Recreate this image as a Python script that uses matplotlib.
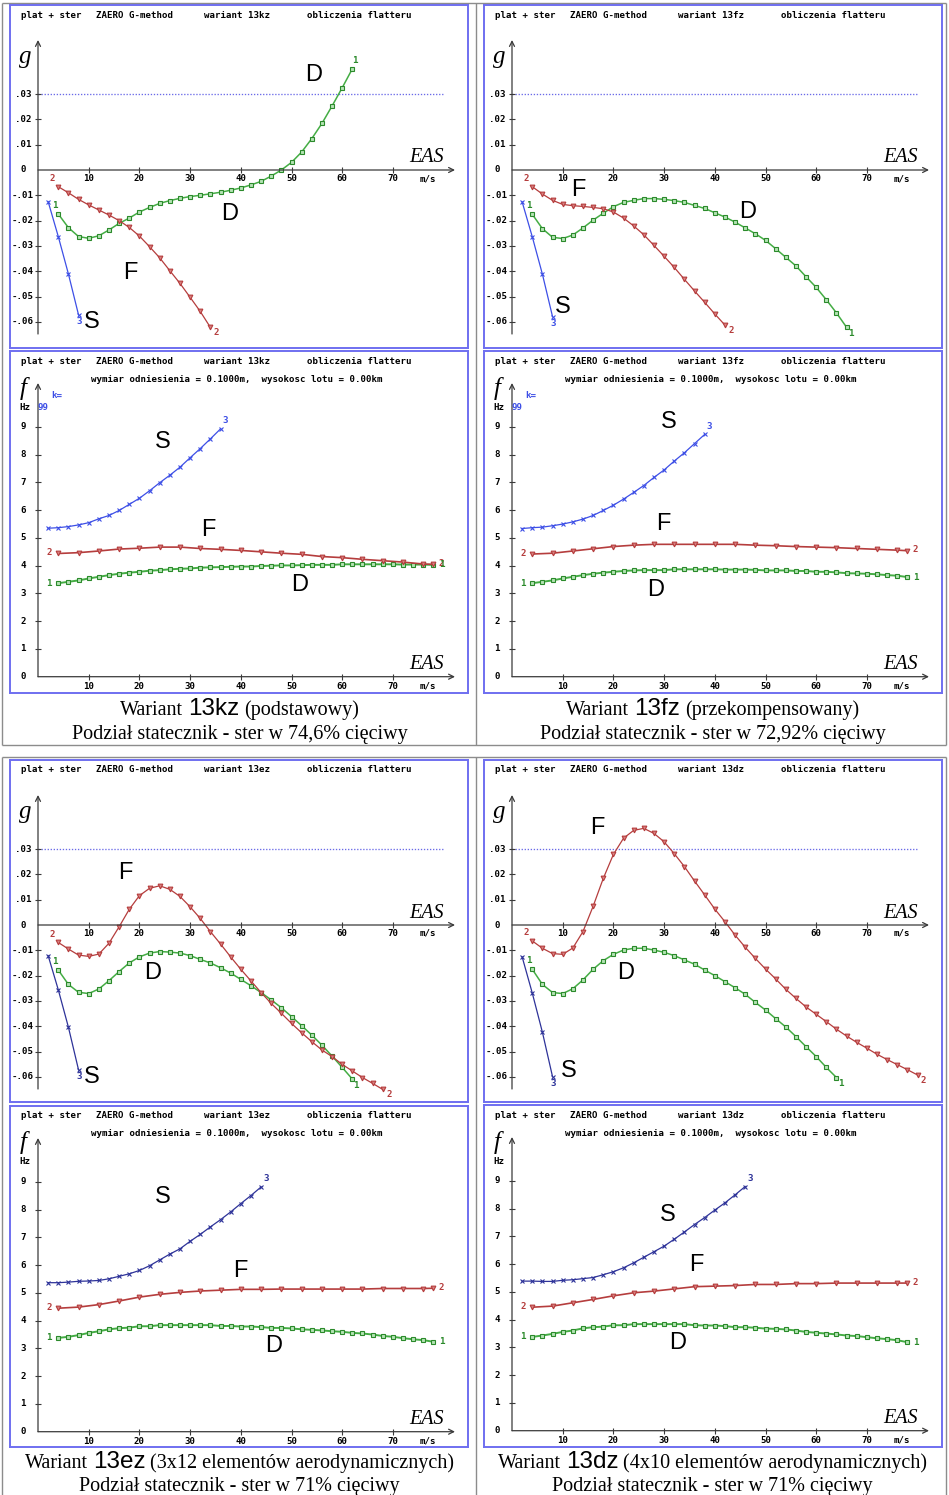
import matplotlib
matplotlib.use('Agg')
import matplotlib.pyplot as plt

W, H = 949, 1495

# EAS speeds, m/s
eas = [4, 6, 8, 10, 12, 14, 16, 18, 20, 22, 24, 26, 28, 30, 32, 34, 36, 38, 40, 42,
       44, 46, 48, 50, 52, 54, 56, 58, 60, 62, 64, 66, 68, 70, 72, 74, 76, 78, 80]
eas_s_g = [2, 4, 6, 8]
eas_s_f = [2, 4, 6, 8, 10, 12, 14, 16, 18, 20, 22, 24, 26, 28, 30, 32, 34, 36, 38, 40, 42, 44, 46]
eas_f_f = [4, 8, 12, 16, 20, 24, 28, 32, 36, 40, 44, 48, 52, 56, 60, 64, 68, 72, 76, 78]

g_ticks = [0.03, 0.02, 0.01, 0.0, -0.01, -0.02, -0.03, -0.04, -0.05, -0.06]
f_ticks = [0, 1, 2, 3, 4, 5, 6, 7, 8, 9]
x_ticks = [10, 20, 30, 40, 50, 60, 70]

# wariant 13kz
g_13kz_D = [-0.0174, -0.0228, -0.0263, -0.0270, -0.0260, -0.0237, -0.0211, -0.0190, -0.0166, -0.0148,
            -0.0132, -0.0121, -0.0112, -0.0105, -0.0100, -0.0094, -0.0088, -0.0080, -0.0071, -0.0059,
            -0.0045, -0.0024, 0.0000, 0.0030, 0.0071, 0.0124, 0.0184, 0.0253, 0.0325, 0.0400]
g_13kz_F = [-0.0066, -0.0090, -0.0116, -0.0138, -0.0158, -0.0178, -0.0200, -0.0227, -0.0261, -0.0303,
            -0.0347, -0.0398, -0.0448, -0.0503, -0.0559, -0.0622]
g_13kz_S = [-0.0125, -0.0263, -0.0411, -0.0573]
f_13kz_S = [5.35, 5.37, 5.41, 5.47, 5.55, 5.69, 5.81, 5.99, 6.21, 6.43, 6.70, 6.99, 7.26, 7.55, 7.89,
            8.22, 8.57, 8.93]
f_13kz_F = [4.44, 4.47, 4.53, 4.60, 4.63, 4.67, 4.67, 4.62, 4.59, 4.55, 4.50, 4.45, 4.41, 4.33, 4.29,
            4.23, 4.18, 4.13, 4.06, 4.05]
f_13kz_D = [3.37, 3.42, 3.47, 3.54, 3.60, 3.66, 3.71, 3.75, 3.78, 3.82, 3.84, 3.87, 3.89, 3.90, 3.93,
            3.94, 3.95, 3.96, 3.97, 3.97, 3.99, 4.00, 4.01, 4.01, 4.02, 4.03, 4.03, 4.03, 4.05, 4.05,
            4.05, 4.05, 4.05, 4.05, 4.04, 4.04, 4.04, 4.03]

# wariant 13fz
g_13fz_D = [-0.0175, -0.0232, -0.0266, -0.0271, -0.0257, -0.0229, -0.0198, -0.0171, -0.0145, -0.0128,
            -0.0120, -0.0113, -0.0113, -0.0116, -0.0121, -0.0128, -0.0140, -0.0152, -0.0169, -0.0186,
            -0.0206, -0.0229, -0.0252, -0.0278, -0.0311, -0.0345, -0.0379, -0.0422, -0.0464, -0.0513,
            -0.0565, -0.0622]
g_13fz_F = [-0.0066, -0.0095, -0.0120, -0.0136, -0.0141, -0.0144, -0.0148, -0.0153, -0.0166, -0.0190,
            -0.0221, -0.0256, -0.0298, -0.0341, -0.0385, -0.0432, -0.0478, -0.0523, -0.0569, -0.0613]
g_13fz_S = [-0.0126, -0.0264, -0.0412, -0.0580]
f_13fz_S = [5.34, 5.37, 5.39, 5.44, 5.50, 5.58, 5.68, 5.81, 5.99, 6.18, 6.40, 6.64, 6.89, 7.18, 7.45,
            7.77, 8.07, 8.40, 8.73]
f_13fz_F = [4.42, 4.45, 4.53, 4.61, 4.69, 4.74, 4.77, 4.77, 4.77, 4.77, 4.77, 4.74, 4.72, 4.69, 4.67,
            4.65, 4.62, 4.59, 4.56, 4.54]
f_13fz_D = [3.37, 3.42, 3.47, 3.54, 3.60, 3.66, 3.71, 3.75, 3.78, 3.81, 3.83, 3.84, 3.84, 3.84, 3.87,
            3.87, 3.87, 3.87, 3.87, 3.86, 3.86, 3.86, 3.85, 3.83, 3.83, 3.83, 3.81, 3.81, 3.78, 3.78,
            3.76, 3.73, 3.72, 3.71, 3.69, 3.66, 3.64, 3.59]

# wariant 13ez
g_13ez_D = [-0.0178, -0.0235, -0.0266, -0.0271, -0.0253, -0.0220, -0.0184, -0.0150, -0.0126, -0.0111,
            -0.0105, -0.0107, -0.0111, -0.0121, -0.0136, -0.0150, -0.0169, -0.0190, -0.0215, -0.0240,
            -0.0267, -0.0296, -0.0327, -0.0362, -0.0398, -0.0435, -0.0475, -0.0518, -0.0563, -0.0609]
g_13ez_F = [-0.0069, -0.0095, -0.0119, -0.0124, -0.0115, -0.0072, -0.0007, 0.0062, 0.0116, 0.0145,
            0.0155, 0.0141, 0.0113, 0.0072, 0.0026, -0.0026, -0.0075, -0.0126, -0.0175, -0.0221,
            -0.0267, -0.0310, -0.0349, -0.0389, -0.0426, -0.0461, -0.0494, -0.0520, -0.0551, -0.0577,
            -0.0603, -0.0626, -0.0650]
g_13ez_S = [-0.0121, -0.0256, -0.0404, -0.0573]
f_13ez_S = [5.37, 5.37, 5.39, 5.42, 5.43, 5.45, 5.51, 5.60, 5.69, 5.81, 5.98, 6.19, 6.40, 6.59, 6.86,
            7.11, 7.38, 7.64, 7.92, 8.22, 8.51, 8.82]
f_13ez_F = [4.45, 4.49, 4.58, 4.71, 4.85, 4.95, 5.02, 5.07, 5.10, 5.13, 5.13, 5.14, 5.14, 5.14, 5.14,
            5.14, 5.16, 5.16, 5.16, 5.17]
f_13ez_D = [3.38, 3.42, 3.48, 3.56, 3.62, 3.69, 3.73, 3.75, 3.80, 3.80, 3.84, 3.84, 3.84, 3.84, 3.84,
            3.84, 3.81, 3.81, 3.79, 3.79, 3.77, 3.74, 3.74, 3.72, 3.69, 3.67, 3.65, 3.62, 3.60, 3.56,
            3.54, 3.50, 3.45, 3.42, 3.37, 3.33, 3.30, 3.24]

# wariant 13dz
g_13dz_D = [-0.0175, -0.0235, -0.0267, -0.0271, -0.0252, -0.0217, -0.0175, -0.0141, -0.0116, -0.0099,
            -0.0092, -0.0092, -0.0099, -0.0108, -0.0121, -0.0138, -0.0155, -0.0178, -0.0200, -0.0224,
            -0.0248, -0.0274, -0.0306, -0.0336, -0.0370, -0.0403, -0.0441, -0.0481, -0.0520, -0.0563,
            -0.0603]
g_13dz_F = [-0.0063, -0.0092, -0.0113, -0.0116, -0.0091, -0.0026, 0.0074, 0.0184, 0.0279, 0.0343,
            0.0374, 0.0382, 0.0362, 0.0329, 0.0282, 0.0231, 0.0174, 0.0119, 0.0063, 0.0013,
            -0.0040, -0.0088, -0.0132, -0.0174, -0.0213, -0.0254, -0.0290, -0.0324, -0.0353, -0.0382,
            -0.0412, -0.0439, -0.0464, -0.0487, -0.0511, -0.0532, -0.0552, -0.0572, -0.0593]
g_13dz_S = [-0.0126, -0.0269, -0.0424, -0.0600]
f_13dz_S = [5.39, 5.39, 5.38, 5.38, 5.42, 5.44, 5.48, 5.52, 5.62, 5.73, 5.87, 6.05, 6.25, 6.45, 6.65,
            6.90, 7.16, 7.43, 7.68, 7.95, 8.21, 8.50, 8.80]
f_13dz_F = [4.45, 4.49, 4.61, 4.73, 4.86, 4.97, 5.03, 5.11, 5.19, 5.21, 5.23, 5.27, 5.27, 5.30, 5.30,
            5.32, 5.32, 5.32, 5.32, 5.32]
f_13dz_D = [3.38, 3.43, 3.49, 3.56, 3.61, 3.69, 3.73, 3.75, 3.80, 3.80, 3.84, 3.84, 3.84, 3.84, 3.84,
            3.84, 3.80, 3.79, 3.79, 3.77, 3.73, 3.73, 3.71, 3.68, 3.67, 3.65, 3.61, 3.56, 3.53, 3.50,
            3.47, 3.43, 3.41, 3.37, 3.33, 3.30, 3.26, 3.19]

# mode letters (EAS, value)
lab_g_13kz = [('D', 54.3, 0.0375), ('D', 37.7, -0.0172), ('F', 18.3, -0.0407), ('S', 10.6, -0.060)]
lab_g_13fz = [('F', 13.0, -0.0078), ('D', 46.4, -0.0165), ('S', 10.0, -0.0543)]
lab_g_13ez = [('F', 17.2, 0.0205), ('D', 22.7, -0.0191), ('S', 10.6, -0.060)]
lab_g_13dz = [('F', 16.8, 0.0382), ('D', 22.5, -0.0191), ('S', 11.1, -0.0577)]
lab_f_13kz = [('S', 24.6, 8.45), ('F', 33.6, 5.29), ('D', 51.7, 3.32)]
lab_f_13fz = [('S', 30.9, 9.18), ('F', 29.9, 5.50), ('D', 28.4, 3.12)]
lab_f_13ez = [('S', 24.6, 8.44), ('F', 40.0, 5.80), ('D', 46.5, 3.10)]
lab_f_13dz = [('S', 30.8, 7.78), ('F', 36.3, 5.98), ('D', 32.7, 3.16)]

cap_13kz = ['Wariant', '13kz', '(podstawowy)', 'Podział statecznik - ster w 74,6% cięciwy']
cap_13fz = ['Wariant', '13fz', '(przekompensowany)', 'Podział statecznik - ster w 72,92% cięciwy']
cap_13ez = ['Wariant', '13ez', '(3x12 elementów aerodynamicznych)', 'Podział statecznik - ster w 71% cięciwy']
cap_13dz = ['Wariant', '13dz', '(4x10 elementów aerodynamicznych)', 'Podział statecznik - ster w 71% cięciwy']

GREEN = '#44ad44'
GREEN_DK = '#2b8a2b'
GREEN_FILL = '#b5e3b5'
RED = '#b53d3d'
BLUE_TOP = '#3d4fe6'
BLUE_BOT = '#2e3399'
BOX = '#6f6ff0'
AXIS = '#3a3a3a'
FRAME = '#8c8c8c'
SX = 5.07

mono = dict(family='DejaVu Sans Mono', fontweight='bold', fontsize=6.6)

fig = plt.figure(figsize=(W / 100, H / 100), dpi=100)
bg = fig.add_axes([0, 0, 1, 1])
bg.set_xlim(0, W)
bg.set_ylim(H, 0)
bg.axis('off')


def panel(box, kind, name, D, F, S, letters, blue, top_row):
    x0, y0, x1, y1 = box
    g = kind == 'g'
    ox = x0 + 28.0
    oy = y0 + (165.0 if g else 325.7)
    sy = 2530.0 if g else 27.75
    ax = fig.add_axes([x0 / W, 1 - y1 / H, (x1 - x0) / W, (y1 - y0) / H])
    ax.set_xlim((x0 - ox) / SX, (x1 - ox) / SX)
    ax.set_ylim((oy - y1) / sy, (oy - y0) / sy)
    ax.set_xticks([])
    ax.set_yticks([])
    for sp in ax.spines.values():
        sp.set_color(BOX)
        sp.set_linewidth(1.4)

    def P(dx, dy):
        return (x0 + dx - ox) / SX, (oy - (y0 + dy)) / sy

    ax.text(*P(11, 10), 'plat + ster', va='center', **mono)
    ax.text(*P(86, 10), 'ZAERO G-method', va='center', **mono)
    ax.text(*P(194, 10), 'wariant ' + name, va='center', **mono)
    ax.text(*P(297, 10), 'obliczenia flatteru', va='center', **mono)
    if not g:
        ax.text(*P(81, 28), 'wymiar odniesienia = 0.1000m,  wysokosc lotu = 0.00km', va='center', **mono)

    arrow = dict(arrowstyle='->', color=AXIS, lw=0.9, shrinkA=0, shrinkB=0, mutation_scale=9)
    ytop = P(0, 35 if g else 32)[1]
    ybot = -164 / sy if g else 0
    ax.annotate('', xy=(0, ytop), xytext=(0, ybot), arrowprops=arrow)
    ax.annotate('', xy=(417 / SX, 0), xytext=(0, 0), arrowprops=arrow)

    ax.vlines(x_ticks, -3 / sy, 3 / sy, color=AXIS, lw=0.8)
    ty = -(8.5 if g else 9.5) / sy
    for v in x_ticks:
        ax.text(v, ty, str(v), ha='center', va='center', **mono)
    ax.text(390 / SX, ty, 'm/s', ha='center', va='center', **mono)

    lx = P(13, 0)[0]
    if g:
        yt = g_ticks
        labs = ['0' if t == 0 else ('%.2f' % t).replace('0.', '.') for t in yt]
        ax.plot([0, 80], [0.03, 0.03], ls=(0, (1, 1.3)), color='#6a6ae8', lw=0.95)
    else:
        yt = f_ticks
        labs = [str(t) for t in yt]
        ax.text(*P(15, 56), 'Hz', ha='center', va='center', **mono)
    ax.hlines([t for t in yt if t != 0], -3 / SX, 3 / SX, color=AXIS, lw=0.8)
    for t, lab in zip(yt, labs):
        ax.text(lx, t, lab, ha='center', va='center', **mono)

    if top_row and not g:
        ax.text(*P(41, 45), 'k=', ha='left', va='center', color=blue, **mono)
        ax.text(*P(28, 56), '99', ha='left', va='center', color=blue, **mono)

    sym = 'g' if g else 'f'
    ax.text(*(P(15, 52) if g else P(13, 37)), sym, ha='center', va='center',
            family='Liberation Serif', style='italic', fontsize=18)
    ax.text(389 / SX, 12 / sy, 'EAS', ha='center', va='center',
            family='Liberation Serif', style='italic', fontsize=14.5)

    if g:
        xD, xF, xS = eas[:len(D)], eas[:len(F)], eas_s_g
    else:
        xD, xF, xS = eas[:len(D)], eas_f_f, eas_s_f[:len(S)]
    ax.plot(xD, D, color=GREEN, lw=1.1 if g else 1.4, marker='s', ms=3.0, mfc=GREEN_FILL, mec=GREEN_DK, mew=0.8)
    ax.plot(xF, F, color=RED, lw=0.9 if g else 1.2, marker='v', ms=3.4, mfc='#d88080', mec=RED, mew=0.8)
    ax.plot(xS, S, color=blue, lw=0.9, marker='x', ms=3.4, mew=0.8)

    def num(txt, x, y, off, col):
        ax.annotate(txt, (x, y), xytext=off, textcoords='offset pixels',
                    ha='center', va='center', color=col, **mono)

    if g:
        num('2', xF[0], F[0], (-6, 8), RED)
        num('1', xD[0], D[0], (-3, 9), GREEN_DK)
        num('2', xF[-1], F[-1], (6, -5), RED)
        num('1', xD[-1], D[-1], (3, 8) if D[-1] > D[-2] else (4, -6), GREEN_DK)
        num('3', xS[-1], S[-1], (1, -7), blue)
    else:
        num('2', xF[0], F[0], (-9, 1), RED)
        num('1', xD[0], D[0], (-9, 0), GREEN_DK)
        num('2', xF[-1], F[-1], (8, 1), RED)
        num('1', xD[-1], D[-1], (8, 0), GREEN_DK)
        num('3', xS[-1], S[-1], (5, 8), blue)

    for txt, v, val in letters:
        ax.text(v, val, txt, ha='center', va='center', family='Liberation Sans', fontsize=17)


def caption(xc, yb, parts):
    r = fig.canvas.get_renderer()
    serif = dict(family='Liberation Serif', fontsize=14.5)
    sans = dict(family='Liberation Sans', fontsize=17.5)
    texts = [bg.text(0, yb, parts[0], va='baseline', **serif),
             bg.text(0, yb, parts[1], va='baseline', **sans),
             bg.text(0, yb, parts[2], va='baseline', **serif)]
    widths = [t.get_window_extent(r).width for t in texts]
    gap = 5
    x = xc - (sum(widths) + 2 * gap) / 2
    for t, w in zip(texts, widths):
        t.set_x(x)
        x += w + gap
    bg.text(xc, yb + 23.5, parts[3], ha='center', va='baseline', **serif)


# table frames
bg.hlines([2.5, 745, 757], 2.5, 946.5, color=FRAME, lw=1.0)
bg.vlines([2.5, 476.5, 946.5], 2.5, 745, color=FRAME, lw=1.0)
bg.vlines([2.5, 476.5, 946.5], 757, H, color=FRAME, lw=1.0)

panel((10, 5, 468, 348), 'g', '13kz', g_13kz_D, g_13kz_F, g_13kz_S, lab_g_13kz, BLUE_TOP, True)
panel((10, 351, 468, 693), 'f', '13kz', f_13kz_D, f_13kz_F, f_13kz_S, lab_f_13kz, BLUE_TOP, True)
panel((484, 5, 942, 348), 'g', '13fz', g_13fz_D, g_13fz_F, g_13fz_S, lab_g_13fz, BLUE_TOP, True)
panel((484, 351, 942, 693), 'f', '13fz', f_13fz_D, f_13fz_F, f_13fz_S, lab_f_13fz, BLUE_TOP, True)
panel((10, 760, 468, 1102), 'g', '13ez', g_13ez_D, g_13ez_F, g_13ez_S, lab_g_13ez, BLUE_BOT, False)
panel((10, 1106, 468, 1447), 'f', '13ez', f_13ez_D, f_13ez_F, f_13ez_S, lab_f_13ez, BLUE_BOT, False)
panel((484, 760, 942, 1102), 'g', '13dz', g_13dz_D, g_13dz_F, g_13dz_S, lab_g_13dz, BLUE_BOT, False)
panel((484, 1105, 942, 1447), 'f', '13dz', f_13dz_D, f_13dz_F, f_13dz_S, lab_f_13dz, BLUE_BOT, False)

caption(239.5, 715, cap_13kz)
caption(712.5, 715, cap_13fz)
caption(239.5, 1468, cap_13ez)
caption(712.5, 1468, cap_13dz)

fig.savefig('out.png', dpi=100)
